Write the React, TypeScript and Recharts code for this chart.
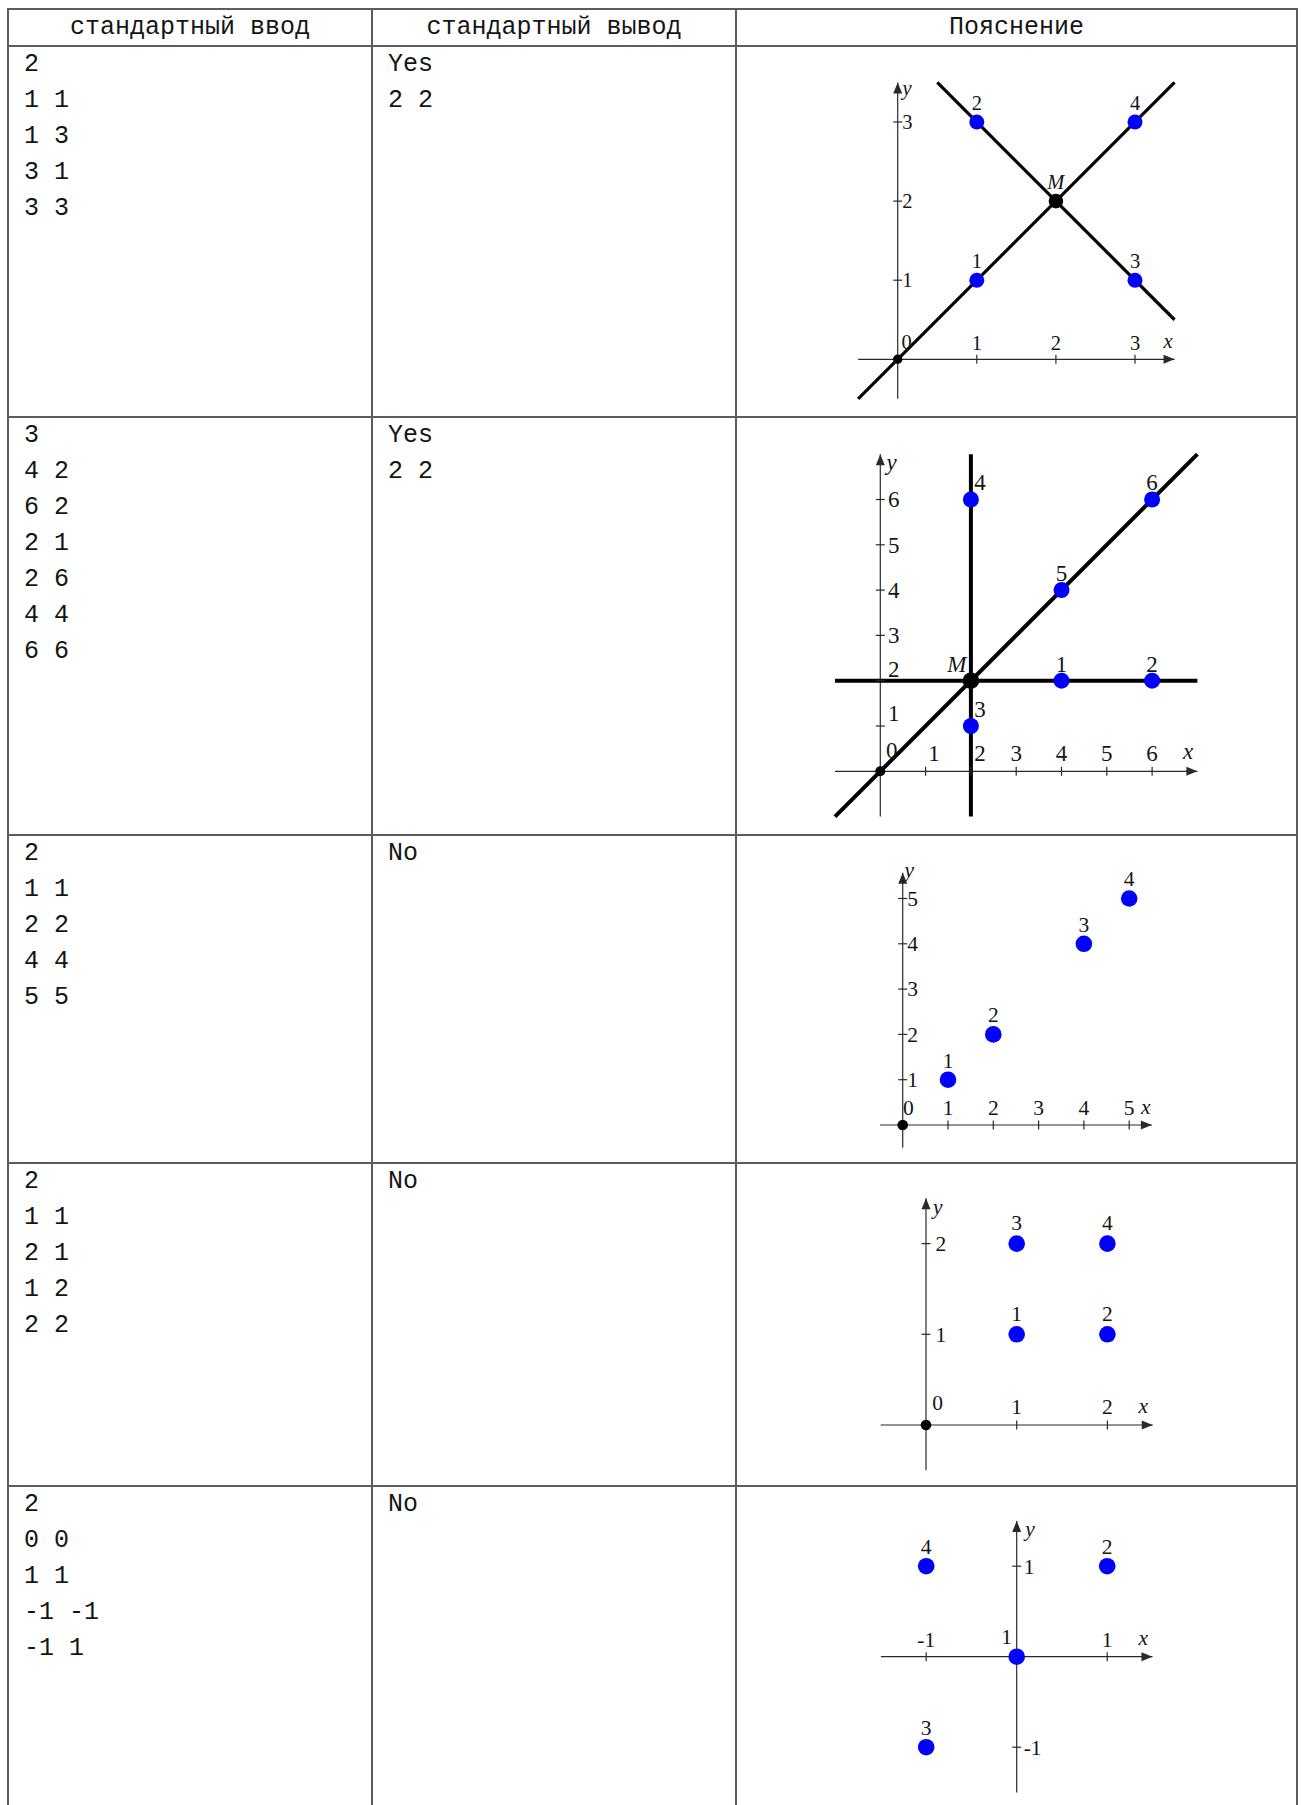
import { ComposedChart, Line, Scatter, XAxis, YAxis } from 'recharts';

// ---- table text ----
const HEADERS = ['стандартный ввод', 'стандартный вывод', 'Пояснение'];

const INPUT_1 = ['2', '1 1', '1 3', '3 1', '3 3'];
const OUTPUT_1 = ['Yes', '2 2'];
const INPUT_2 = ['3', '4 2', '6 2', '2 1', '2 6', '4 4', '6 6'];
const OUTPUT_2 = ['Yes', '2 2'];
const INPUT_3 = ['2', '1 1', '2 2', '4 4', '5 5'];
const OUTPUT_3 = ['No'];
const INPUT_4 = ['2', '1 1', '2 1', '1 2', '2 2'];
const OUTPUT_4 = ['No'];
const INPUT_5 = ['2', '0 0', '1 1', '-1 -1', '-1 1'];
const OUTPUT_5 = ['No'];

// ---- plot data ----
type Pt = { x: number; y: number; label?: string };

const POINTS_1: Pt[] = [
  { x: 1, y: 1, label: '1' },
  { x: 1, y: 3, label: '2' },
  { x: 3, y: 1, label: '3' },
  { x: 3, y: 3, label: '4' },
];
const LINES_1: Pt[][] = [
  [{ x: -0.5, y: -0.5 }, { x: 3.5, y: 3.5 }],
  [{ x: 0.5, y: 3.5 }, { x: 3.5, y: 0.5 }],
];
const MEET_1: Pt[] = [{ x: 2, y: 2, label: 'M' }];
const X_TICKS_1 = [1, 2, 3];
const Y_TICKS_1 = [1, 2, 3];

const POINTS_2: Pt[] = [
  { x: 4, y: 2, label: '1' },
  { x: 6, y: 2, label: '2' },
  { x: 2, y: 1, label: '3' },
  { x: 2, y: 6, label: '4' },
  { x: 4, y: 4, label: '5' },
  { x: 6, y: 6, label: '6' },
];
const LINES_2: Pt[][] = [
  [{ x: -1, y: 2 }, { x: 7, y: 2 }],
  [{ x: 2, y: -1 }, { x: 2, y: 7 }],
  [{ x: -1, y: -1 }, { x: 7, y: 7 }],
];
const MEET_2: Pt[] = [{ x: 2, y: 2, label: 'M' }];
const X_TICKS_2 = [1, 2, 3, 4, 5, 6];
const Y_TICKS_2 = [1, 2, 3, 4, 5, 6];

const POINTS_3: Pt[] = [
  { x: 1, y: 1, label: '1' },
  { x: 2, y: 2, label: '2' },
  { x: 4, y: 4, label: '3' },
  { x: 5, y: 5, label: '4' },
];
const X_TICKS_3 = [1, 2, 3, 4, 5];
const Y_TICKS_3 = [1, 2, 3, 4, 5];

const POINTS_4: Pt[] = [
  { x: 1, y: 1, label: '1' },
  { x: 2, y: 1, label: '2' },
  { x: 1, y: 2, label: '3' },
  { x: 2, y: 2, label: '4' },
];
const X_TICKS_4 = [1, 2];
const Y_TICKS_4 = [1, 2];

const POINTS_5: Pt[] = [
  { x: 0, y: 0, label: '1' },
  { x: 1, y: 1, label: '2' },
  { x: -1, y: -1, label: '3' },
  { x: -1, y: 1, label: '4' },
];
const X_TICKS_5 = [-1, 1];
const Y_TICKS_5 = [-1, 1];

// ---- layout ----
const COL_X = [7, 371, 735, 1296];
const ROW_Y = [8, 45, 416, 834, 1162, 1485];
const PAGE_H = 1805;
const BOX_LEFT = COL_X[2] + 2;
const BOX_W = COL_X[3] - BOX_LEFT;

const FONT_SERIF = '"Liberation Serif", "DejaVu Serif", serif';
const FONT_MONO = '"Liberation Mono", "DejaVu Sans Mono", monospace';
const AXIS = '#2a2a2a';
const BLUE = '#0000ff';
const RULE = '#5c5c5c';
const INK = '#151515';

interface PlotSpec {
  points: Pt[];
  lines: Pt[][];
  meet: Pt[];
  xTicks: number[];
  yTicks: number[];
  xRange: [number, number];
  yRange: [number, number];
  showZero: boolean;
  origin: [number, number];
  unit: number;
  font: number;
  dotR: number;
  meetR: number;
  zeroR: number;
  lineW: number;
  xTickDy: number;
  yTickDx: number;
  pointDy: number;
  zeroAt: [number, number];
  xNameAt: [number, number];
  yNameAt: [number, number];
  meetAt: [number, number];
  xTickShift?: Record<number, [number, number]>;
  yTickShift?: Record<number, [number, number]>;
  pointShift?: Record<string, [number, number]>;
}

const PLOTS: PlotSpec[] = [
  {
    points: POINTS_1, lines: LINES_1, meet: MEET_1, xTicks: X_TICKS_1, yTicks: Y_TICKS_1,
    xRange: [-0.5, 3.5], yRange: [-0.5, 3.5], showZero: true,
    origin: [897.7, 359.3], unit: 79.1, font: 20.5, dotR: 7.5, meetR: 7.3, zeroR: 4.7, lineW: 3.2,
    xTickDy: -16, yTickDx: 4.6, pointDy: -19,
    zeroAt: [9, -17.6], xNameAt: [-6.6, -16], yNameAt: [9.3, 10.5], meetAt: [0, -18.6],
  },
  {
    points: POINTS_2, lines: LINES_2, meet: MEET_2, xTicks: X_TICKS_2, yTicks: Y_TICKS_2,
    xRange: [-1, 7], yRange: [-1, 7], showZero: true,
    origin: [880.3, 771.3], unit: 45.3, font: 23, dotR: 8, meetR: 8.3, zeroR: 5, lineW: 4,
    xTickDy: -18, yTickDx: 7.6, pointDy: -17,
    zeroAt: [11.4, -21.3], xNameAt: [-9.4, -18], yNameAt: [11.4, 13.3], meetAt: [-14, -16],
    xTickShift: { 1: [8.5, -18], 2: [9, -18] },
    yTickShift: { 1: [7.6, -12.5], 2: [7.6, -11.5] },
    pointShift: { '3': [9, -17], '4': [9, -17] },
  },
  {
    points: POINTS_3, lines: [], meet: [], xTicks: X_TICKS_3, yTicks: Y_TICKS_3,
    xRange: [-0.5, 5.5], yRange: [-0.5, 5.57], showZero: true,
    origin: [902.7, 1125], unit: 45.3, font: 21.5, dotR: 8.3, meetR: 0, zeroR: 5.3, lineW: 0,
    xTickDy: -17, yTickDx: 4.6, pointDy: -19.5,
    zeroAt: [5.6, -17.7], xNameAt: [-6, -15.7], yNameAt: [6.6, 1.4], meetAt: [0, 0],
  },
  {
    points: POINTS_4, lines: [], meet: [], xTicks: X_TICKS_4, yTicks: Y_TICKS_4,
    xRange: [-0.5, 2.5], yRange: [-0.5, 2.5], showZero: true,
    origin: [926, 1425], unit: 90.7, font: 21.5, dotR: 8.3, meetR: 0, zeroR: 5.3, lineW: 0,
    xTickDy: -18, yTickDx: 9.6, pointDy: -21,
    zeroAt: [11.7, -22.3], xNameAt: [-9.5, -17.3], yNameAt: [11.7, 13.4], meetAt: [0, 0],
  },
  {
    points: POINTS_5, lines: [], meet: [], xTicks: X_TICKS_5, yTicks: Y_TICKS_5,
    xRange: [-1.5, 1.5], yRange: [-1.5, 1.5], showZero: false,
    origin: [1016.7, 1656.7], unit: 90.5, font: 21.5, dotR: 8.3, meetR: 0, zeroR: 0, lineW: 0,
    xTickDy: -16.7, yTickDx: 7, pointDy: -20,
    zeroAt: [0, 0], xNameAt: [-9.2, -16.7], yNameAt: [13.3, 12.3], meetAt: [0, 0],
    pointShift: { '1': [-10, -20] },
  },
];

const ROWS = [
  { input: INPUT_1, output: OUTPUT_1 },
  { input: INPUT_2, output: OUTPUT_2 },
  { input: INPUT_3, output: OUTPUT_3 },
  { input: INPUT_4, output: OUTPUT_4 },
  { input: INPUT_5, output: OUTPUT_5 },
];

function plotMargin(p: PlotSpec, top: number, height: number) {
  const left = p.origin[0] + p.xRange[0] * p.unit - BOX_LEFT;
  const plotW = (p.xRange[1] - p.xRange[0]) * p.unit;
  const t = p.origin[1] - p.yRange[1] * p.unit - top;
  const plotH = (p.yRange[1] - p.yRange[0]) * p.unit;
  return { left, right: BOX_W - left - plotW, top: t, bottom: height - t - plotH };
}

function Label({ x, y, text, size, italic, anchor = 'middle' }: any) {
  return (
    <text
      x={x}
      y={y}
      textAnchor={anchor}
      fontFamily={FONT_SERIF}
      fontSize={size}
      fontStyle={italic ? 'italic' : 'normal'}
      fill={INK}
    >
      {text}
    </text>
  );
}

function Plot({ p, top, height }: { p: PlotSpec; top: number; height: number }) {
  const fs = p.font;
  const digitBase = 0.34 * fs;
  const axisX = [{ x: p.xRange[0], y: 0 }, { x: p.xRange[1], y: 0 }];
  const axisY = [{ x: 0, y: p.yRange[0] }, { x: 0, y: p.yRange[1] }];
  const seriesProps = { isAnimationActive: false, legendType: 'none' as const };

  return (
    <div style={{ position: 'absolute', left: BOX_LEFT, top, width: BOX_W, height }}>
      <ComposedChart width={BOX_W} height={height} margin={plotMargin(p, top, height)}>
        <XAxis type="number" dataKey="x" domain={p.xRange} hide />
        <YAxis type="number" dataKey="y" domain={p.yRange} hide />
        <Line data={axisX} dataKey="y" type="linear" stroke={AXIS} strokeWidth={1.2} dot={false} activeDot={false} {...seriesProps} />
        <Line data={axisY} dataKey="y" type="linear" stroke={AXIS} strokeWidth={1.2} dot={false} activeDot={false} {...seriesProps} />
        {p.lines.map((seg, i) => (
          <Line
            key={i}
            data={seg}
            dataKey="y"
            type="linear"
            stroke="#000"
            strokeWidth={p.lineW}
            dot={false}
            activeDot={false}
            {...seriesProps}
          />
        ))}
        {/* arrow heads and axis names */}
        <Scatter
          data={[{ x: p.xRange[1], y: 0 }]}
          {...seriesProps}
          shape={(s: any) => (
            <g>
              <path d={`M${s.cx},${s.cy} L${s.cx - 11},${s.cy - 4.5} L${s.cx - 11},${s.cy + 4.5} Z`} fill={AXIS} />
              <Label x={s.cx + p.xNameAt[0]} y={s.cy + p.xNameAt[1] + 0.23 * fs} text="x" size={fs} italic />
            </g>
          )}
        />
        <Scatter
          data={[{ x: 0, y: p.yRange[1] }]}
          {...seriesProps}
          shape={(s: any) => (
            <g>
              <path d={`M${s.cx},${s.cy} L${s.cx - 4.5},${s.cy + 11} L${s.cx + 4.5},${s.cy + 11} Z`} fill={AXIS} />
              <Label x={s.cx + p.yNameAt[0]} y={s.cy + p.yNameAt[1] + 0.12 * fs} text="y" size={fs} italic />
            </g>
          )}
        />
        {/* axis ticks */}
        <Scatter
          data={p.xTicks.map((v) => ({ x: v, y: 0 }))}
          {...seriesProps}
          shape={(s: any) => {
            const [dx, dy] = p.xTickShift?.[s.payload.x] ?? [0, p.xTickDy];
            return (
              <g>
                <line x1={s.cx} x2={s.cx} y1={s.cy - 4.5} y2={s.cy + 4.5} stroke={AXIS} strokeWidth={1.2} />
                <Label x={s.cx + dx} y={s.cy + dy + digitBase} text={String(s.payload.x)} size={fs} />
              </g>
            );
          }}
        />
        <Scatter
          data={p.yTicks.map((v) => ({ x: 0, y: v }))}
          {...seriesProps}
          shape={(s: any) => {
            const [dx, dy] = p.yTickShift?.[s.payload.y] ?? [p.yTickDx, 0];
            return (
              <g>
                <line x1={s.cx - 4.5} x2={s.cx + 4.5} y1={s.cy} y2={s.cy} stroke={AXIS} strokeWidth={1.2} />
                <Label x={s.cx + dx} y={s.cy + dy + digitBase} text={String(s.payload.y)} size={fs} anchor="start" />
              </g>
            );
          }}
        />
        {p.showZero && (
          <Scatter
            data={[{ x: 0, y: 0 }]}
            {...seriesProps}
            shape={(s: any) => (
              <g>
                <circle cx={s.cx} cy={s.cy} r={p.zeroR} fill="#000" />
                <Label x={s.cx + p.zeroAt[0]} y={s.cy + p.zeroAt[1] + digitBase} text="0" size={fs} />
              </g>
            )}
          />
        )}
        {p.meet.length > 0 && (
          <Scatter
            data={p.meet}
            {...seriesProps}
            shape={(s: any) => (
              <g>
                <circle cx={s.cx} cy={s.cy} r={p.meetR} fill="#000" />
                <Label x={s.cx + p.meetAt[0]} y={s.cy + p.meetAt[1] + 0.33 * fs} text={s.payload.label} size={fs} italic />
              </g>
            )}
          />
        )}
        <Scatter
          data={p.points}
          {...seriesProps}
          shape={(s: any) => {
            const [dx, dy] = p.pointShift?.[s.payload.label] ?? [0, p.pointDy];
            return (
              <g>
                <circle cx={s.cx} cy={s.cy} r={p.dotR} fill={BLUE} />
                <Label x={s.cx + dx} y={s.cy + dy + digitBase} text={s.payload.label} size={fs} />
              </g>
            );
          }}
        />
      </ComposedChart>
    </div>
  );
}

const monoText = {
  fontFamily: FONT_MONO,
  fontSize: 25,
  color: INK,
  whiteSpace: 'pre' as const,
};

export default function App() {
  const rowTop = (r: number) => ROW_Y[r] + 2;
  const rowH = (r: number) => (r + 1 < ROW_Y.length ? ROW_Y[r + 1] : PAGE_H) - rowTop(r);

  return (
    <div style={{ position: 'absolute', left: 0, top: 0, width: 1301, height: PAGE_H, overflow: 'hidden', background: '#fff' }}>
      {/* rules */}
      {COL_X.map((x, i) => (
        <div key={`v${i}`} style={{ position: 'absolute', left: x, top: ROW_Y[0], width: 2, height: PAGE_H - ROW_Y[0], background: RULE }} />
      ))}
      {ROW_Y.map((y, i) => (
        <div key={`h${i}`} style={{ position: 'absolute', left: COL_X[0], top: y, width: COL_X[3] + 2 - COL_X[0], height: 2, background: RULE }} />
      ))}

      {/* header */}
      {HEADERS.map((h, c) => (
        <div
          key={h}
          style={{
            ...monoText,
            position: 'absolute',
            left: COL_X[c] + 2,
            width: COL_X[c + 1] - COL_X[c] - 2,
            top: ROW_Y[0] + 2,
            height: ROW_Y[1] - ROW_Y[0] - 2,
            lineHeight: `${ROW_Y[1] - ROW_Y[0] - 2}px`,
            textAlign: 'center',
          }}
        >
          {h}
        </div>
      ))}

      {/* body rows */}
      {ROWS.map((row, i) => {
        const r = i + 1;
        return [row.input, row.output].map((lines, c) => (
          <div
            key={`${r}-${c}`}
            style={{
              ...monoText,
              position: 'absolute',
              left: COL_X[c] + 2,
              width: COL_X[c + 1] - COL_X[c] - 2,
              top: rowTop(r),
              paddingLeft: 15,
              lineHeight: '36px',
            }}
          >
            {lines.map((ln, k) => (
              <div key={k} style={{ height: 36 }}>{ln}</div>
            ))}
          </div>
        ));
      })}

      {PLOTS.map((p, i) => (
        <Plot key={i} p={p} top={rowTop(i + 1)} height={rowH(i + 1)} />
      ))}
    </div>
  );
}
